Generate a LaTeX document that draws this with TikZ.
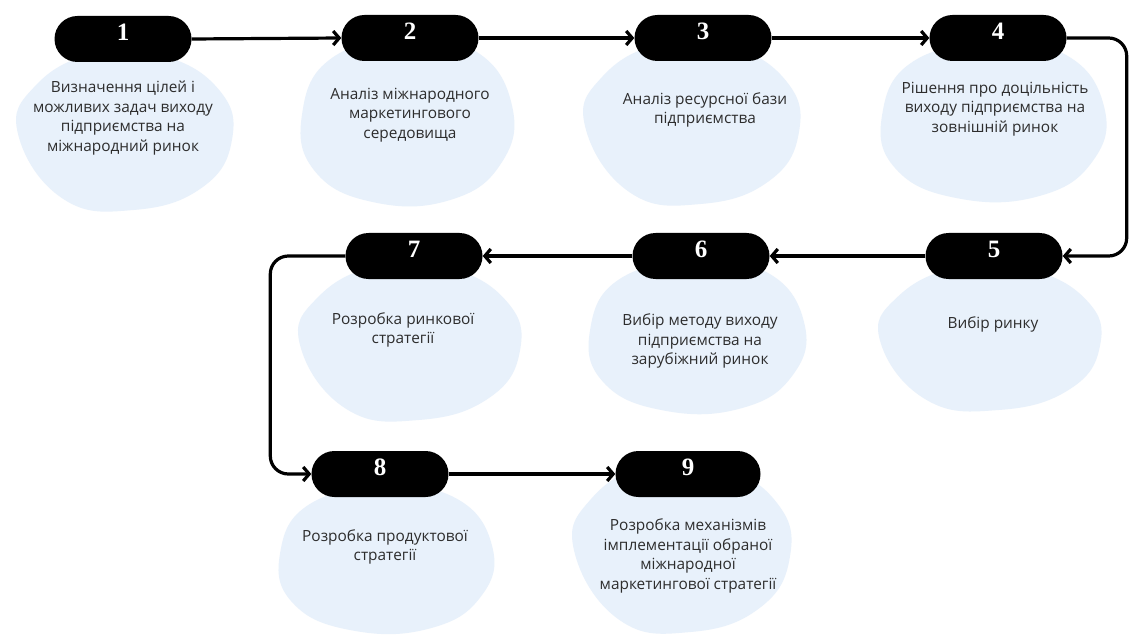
\documentclass[tikz,border=0pt]{standalone}
\usepackage{fontspec}
\newfontfamily\osans{Open Sans}
\newfontfamily\numfont{Liberation Serif}
\usetikzlibrary{arrows.meta}
\definecolor{blobc}{RGB}{232,241,251}
\definecolor{txtc}{RGB}{45,45,45}
\tikzset{
  pill/.style={fill=black, rounded corners=23pt, minimum width=137pt, minimum height=46pt, inner sep=0pt,
    text height=17pt, text depth=14pt,
    text=white, font=\numfont\bfseries\fontsize{25}{25}\selectfont},
  desc/.style={align=center, text=txtc, font=\osans\fontsize{15.4}{19.6}\selectfont, inner sep=0pt},
  arr/.style={draw=black, line width=3.2pt, -{Straight Barb[length=6pt,width=14pt]}},
}
\newcommand\blobA[4]{%
  \begin{scope}[shift={(#1,#2)}, xscale=#3, yscale=#4]
    \fill[blobc] plot[smooth cycle, tension=0.75] coordinates
      {(-1,0.05) (-0.84,-0.55) (-0.3,-0.95) (0.35,-0.93) (0.88,-0.5) (1,0.12) (0.72,0.72) (0.08,1) (-0.58,0.86)};
  \end{scope}}
\newcommand\blobB[4]{%
  \begin{scope}[shift={(#1,#2)}, xscale=#3, yscale=#4]
    \fill[blobc] plot[smooth cycle, tension=0.75] coordinates
      {(-0.98,-0.1) (-0.7,-0.78) (0,-1) (0.66,-0.86) (1,-0.2) (0.9,0.5) (0.42,0.95) (-0.3,0.98) (-0.86,0.6)};
  \end{scope}}
\begin{document}
\begin{tikzpicture}[x=1pt,y=-1pt]
\useasboundingbox (0,0) rectangle (1131,644);
\fill[white] (0,0) rectangle (1131,644);
% blobs
\blobA{125}{130}{107}{80}
\blobB{406}{122}{106}{82}
\blobA{692}{122}{107}{82}
\blobB{992}{122}{112}{78}
\blobA{990}{337}{110}{73}
\blobB{696}{337}{108}{75}
\blobA{410}{341}{110}{79}
\blobB{385}{560}{107}{72}
\blobA{682}{546}{108}{86}
% pills
\node[pill] (p1) at (123,39) {1};
\node[pill] (p2) at (410,38) {2};
\node[pill] (p3) at (703,38) {3};
\node[pill] (p4) at (998,38) {4};
\node[pill] (p5) at (994,256) {5};
\node[pill] (p6) at (701,256) {6};
\node[pill] (p7) at (414,256) {7};
\node[pill] (p8) at (380,474) {8};
\node[pill, minimum width=145pt] (p9) at (688,474) {9};
% texts
\node[desc] (t1) at (123,118) {Визначення цілей і\\можливих задач виходу\\підприємства на\\міжнародний ринок};
\node[desc] (t2) at (410,115) {Аналіз міжнародного\\маркетингового\\середовища};
\node[desc] (t3) at (705,110) {Аналіз ресурсної бази\\підприємства};
\node[desc] (t4) at (995,109) {Рішення про доцільність\\виходу підприємства на\\зовнішній ринок};
\node[desc] (t5) at (993,324) {Вибір ринку};
\node[desc] (t6) at (700,341) {Вибір методу виходу\\підприємства на\\зарубіжний ринок};
\node[desc] (t7) at (403,330) {Розробка ринкової\\стратегії};
\node[desc] (t8) at (385,547) {Розробка продуктової\\стратегії};
\node[desc] (t9) at (688,556) {Розробка механізмів\\імплементації обраної\\міжнародної\\маркетингової стратегії};
% connectors
\draw[arr] (p1.east) -- (p2.west);
\draw[arr] (p2.east) -- (p3.west);
\draw[arr] (p3.east) -- (p4.west);
\draw[arr, rounded corners=18pt] (p4.east) -- ++(60,0) |- (p5.east);
\draw[arr] (p5.west) -- (p6.east);
\draw[arr] (p6.west) -- (p7.east);
\draw[arr, rounded corners=18pt] (p7.west) -- ++(-75,0) |- (p8.west);
\draw[arr] (p8.east) -- (p9.west);
\end{tikzpicture}
\end{document}
